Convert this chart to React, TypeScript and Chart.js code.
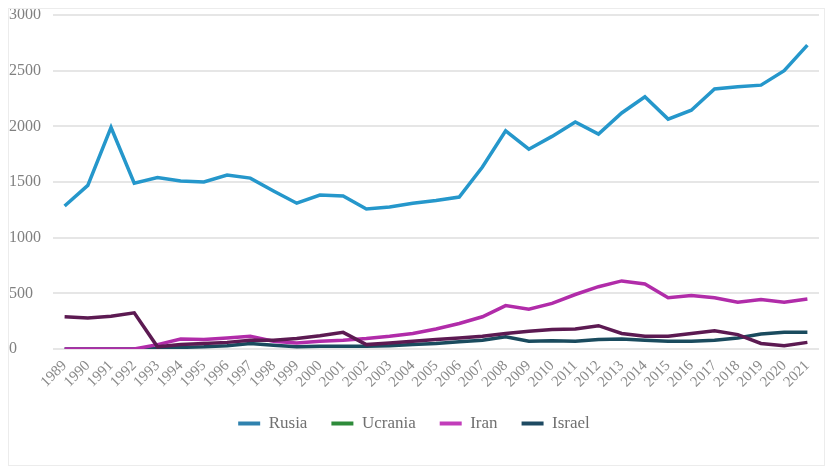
import React, { useEffect, useRef } from "react";
import { Chart, registerables } from "chart.js";

Chart.register(...registerables);

const years = [
  "1989","1990","1991","1992","1993","1994","1995","1996","1997","1998","1999",
  "2000","2001","2002","2003","2004","2005","2006","2007","2008","2009","2010",
  "2011","2012","2013","2014","2015","2016","2017","2018","2019","2020","2021",
];

const rusia = [
  1285, 1470, 1990, 1490, 1540, 1510, 1500, 1563, 1535, 1420, 1310,
  1383, 1375, 1258, 1275, 1310, 1335, 1365, 1635, 1960, 1795, 1910,
  2040, 1930, 2120, 2265, 2065, 2145, 2335, 2355, 2370, 2500, 2730,
];

const ucrania = [
  290, 280, 295, 325, 20, 40, 50, 60, 80, 80, 95,
  120, 150, 40, 55, 70, 85, 100, 115, 140, 160, 175,
  180, 210, 140, 115, 115, 140, 165, 130, 50, 30, 60,
];

const iran = [
  0, 0, 0, 0, 40, 90, 85, 100, 115, 70, 55,
  70, 80, 95, 115, 140, 180, 230, 290, 390, 357, 410,
  490, 560, 612, 585, 461, 480, 460, 420, 445, 420, 449,
];

const israel = [
  0, 0, 0, 0, 5, 15, 20, 30, 50, 35, 20,
  25, 25, 25, 30, 40, 50, 65, 80, 110, 70, 75,
  70, 85, 90, 80, 70, 70, 80, 100, 135, 150, 152,
];

const seriesNames = ["Rusia", "Ucrania", "Iran", "Israel"];
const lineColors = ["#2597CB", "#5C1A52", "#B12CA9", "#1A4B5E"];
const legendColors = ["#2F82AE", "#2E8B3A", "#C23DBA", "#1E4A62"];
const yTicks = [0, 500, 1000, 1500, 2000, 2500, 3000];

export default function App() {
  const ref = useRef<HTMLCanvasElement | null>(null);

  useEffect(() => {
    if (!ref.current) return;
    const values = [rusia, ucrania, iran, israel];
    const chart = new Chart(ref.current, {
      type: "line",
      data: {
        labels: years,
        datasets: seriesNames.map((name, i) => ({
          label: name,
          data: values[i],
          borderColor: lineColors[i],
          backgroundColor: lineColors[i],
          borderWidth: 3.5,
          pointRadius: 0,
          tension: 0,
          fill: false,
        })),
      },
      options: {
        responsive: false,
        animation: false,
        layout: { padding: { top: 6, right: 5, bottom: 23, left: 0 } },
        plugins: {
          tooltip: { enabled: false },
          legend: {
            position: "bottom",
            labels: {
              boxWidth: 22,
              boxHeight: 4,
              padding: 24,
              color: "#707070",
              font: { family: "'Liberation Serif', serif", size: 17 },
              generateLabels: () =>
                seriesNames.map((name, i) => ({
                  text: name,
                  fillStyle: legendColors[i],
                  strokeStyle: legendColors[i],
                  lineWidth: 0,
                  hidden: false,
                  datasetIndex: i,
                  fontColor: "#707070",
                })),
            },
          },
        },
        scales: {
          x: {
            offset: true,
            grid: { display: false },
            border: { display: false },
            afterFit: (scale: any) => {
              scale.paddingLeft = 0;
              scale.paddingRight = 0;
            },
            ticks: {
              minRotation: 45,
              maxRotation: 45,
              autoSkip: false,
              color: "#8a8a8a",
              font: { family: "'Liberation Serif', serif", size: 15 },
              padding: 0,
            },
          },
          y: {
            min: 0,
            max: 3000,
            afterBuildTicks: (axis: any) => {
              axis.ticks = yTicks.map((v) => ({ value: v }));
            },
            afterFit: (scale: any) => {
              scale.paddingTop = 0;
              scale.paddingBottom = 0;
              scale.width = 44;
            },
            grid: { color: "#e6e6e6", lineWidth: 2, drawTicks: false },
            border: { display: false },
            ticks: {
              crossAlign: "far",
              padding: 12,
              color: "#808080",
              font: { family: "'Liberation Serif', serif", size: 16 },
              callback: (v: any) => String(v),
            },
          },
        },
      },
    });
    return () => chart.destroy();
  }, []);

  return (
    <div style={{ width: 817, height: 458, border: "1px solid #ececec", boxSizing: "border-box", background: "#fff", overflow: "hidden" }}>
      <canvas ref={ref} width={815} height={456} style={{ display: "block" }} />
    </div>
  );
}
